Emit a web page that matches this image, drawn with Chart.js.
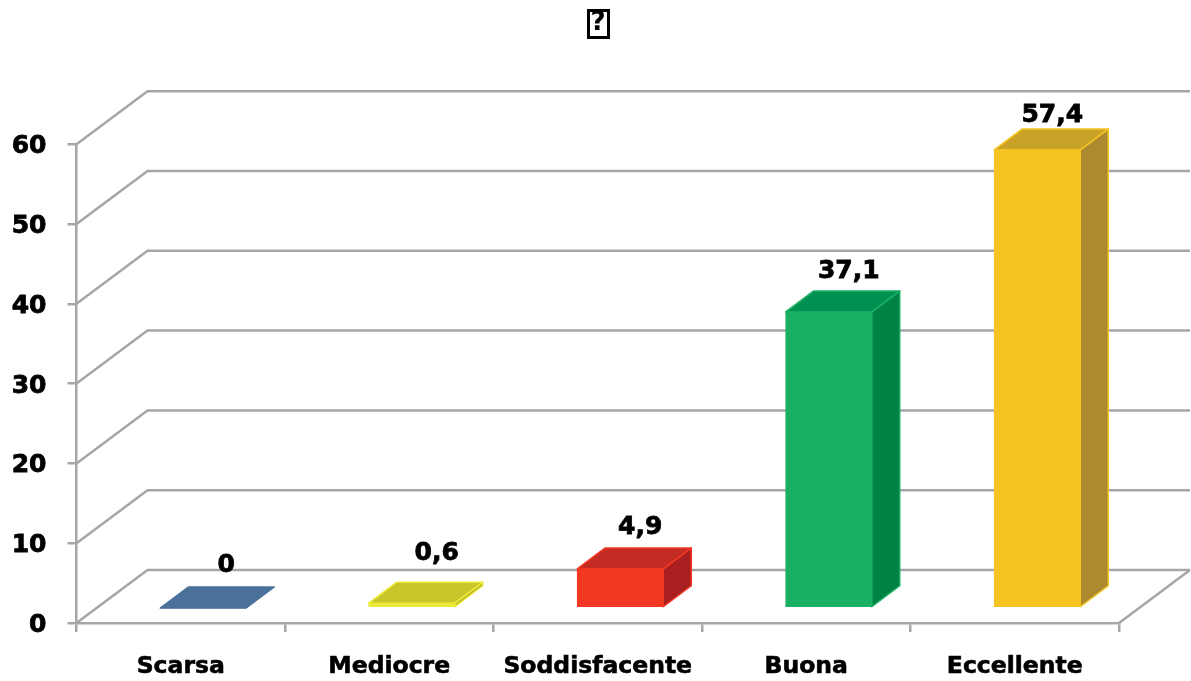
<!DOCTYPE html>
<html>
<head>
<meta charset="utf-8">
<title>chart</title>
<script src="https://cdn.jsdelivr.net/npm/chart.js@4/dist/chart.umd.min.js"></script>
<style>
  html, body { margin: 0; padding: 0; background: #fff; }
  canvas { display: block; }
</style>
</head>
<body>
<canvas id="myChart" width="1191" height="681"></canvas>
<script>
var categories = ["Scarsa", "Mediocre", "Soddisfacente", "Buona", "Eccellente"];
var values = [0, 0.6, 4.9, 37.1, 57.4];
var titleText = "?";

var frontColors = ["#4a7199", "#eeea38", "#f23823", "#19b063", "#f5c422"];
var topColors = ["#4a7199", "#c9c62c", "#c42b22", "#009051", "#c9a328"];
var sideColors = ["#4a7199", "#b5b22a", "#a91f1f", "#008246", "#ad8a2f"];
var labelNudge = [[1, -10], [3, -17], [-2, -9], [-2, -8], [-7, -2]];

var gridColor = "#a6a6a6";
var labelFont = "bold 25px 'DejaVu Sans'";

// wall offset and bar depth of the fake 3d look
var wallX = 71, wallY = -53;
var barShiftX = 22.5, barShiftY = -15;
var depthX = 28, depthY = -21;

function poly(ctx, pts, fill, stroke) {
    ctx.beginPath();
    ctx.moveTo(pts[0][0], pts[0][1]);
    for (var i = 1; i < pts.length; i++) ctx.lineTo(pts[i][0], pts[i][1]);
    ctx.closePath();
    ctx.fillStyle = fill;
    ctx.fill();
    ctx.strokeStyle = stroke;
    ctx.lineWidth = 1.5;
    ctx.stroke();
}

var fake3d = {
    id: "fake3d",
    beforeDatasetsDraw: function (chart) {
        var ctx = chart.ctx, area = chart.chartArea, y = chart.scales.y;
        ctx.save();
        ctx.strokeStyle = gridColor;
        ctx.lineWidth = 2.5;
        y.ticks.forEach(function (t) {
            var py = y.getPixelForValue(t.value);
            ctx.beginPath();
            ctx.moveTo(area.left, py);
            ctx.lineTo(area.left + wallX, py + wallY);
            ctx.lineTo(area.right + wallX, py + wallY);
            ctx.stroke();
        });
        // right edge of the floor
        ctx.beginPath();
        ctx.moveTo(area.right, area.bottom);
        ctx.lineTo(area.right + wallX, area.bottom + wallY);
        ctx.stroke();

        // side and top faces, the front comes from the bar itself
        ctx.lineJoin = "round";
        chart.getDatasetMeta(0).data.forEach(function (bar, i) {
            var l = bar.x - bar.width / 2 + barShiftX;
            var r = bar.x + bar.width / 2 + barShiftX;
            var t = bar.y + barShiftY;
            var b = bar.base + barShiftY;
            if (values[i] > 0) {
                poly(ctx, [[r, t], [r + depthX, t + depthY], [r + depthX, b + depthY], [r, b]], sideColors[i], frontColors[i]);
            }
            poly(ctx, [[l, t], [r, t], [r + depthX, t + depthY], [l + depthX, t + depthY]], topColors[i], values[i] > 0 ? frontColors[i] : topColors[i]);
        });
        ctx.restore();

        ctx.save();
        ctx.translate(barShiftX, barShiftY);
    },
    afterDatasetsDraw: function (chart) {
        var ctx = chart.ctx;
        ctx.restore();
        ctx.save();
        ctx.font = labelFont;
        ctx.fillStyle = "#000";
        ctx.strokeStyle = "#000";
        ctx.lineWidth = 0.8;
        ctx.textAlign = "center";
        ctx.textBaseline = "alphabetic";
        chart.getDatasetMeta(0).data.forEach(function (bar, i) {
            var txt = String(values[i]).replace(".", ",");
            var tx = bar.x + barShiftX + depthX / 2 + 8 + labelNudge[i][0];
            var ty = bar.y + barShiftY + depthY - 5 + labelNudge[i][1];
            ctx.fillText(txt, tx, ty);
            ctx.strokeText(txt, tx, ty);
        });

        // frame round the title mark
        var tb = chart.titleBlock;
        var cx = (tb.left + tb.right) / 2;
        ctx.lineWidth = 3;
        ctx.strokeRect(cx - 9.5, 10.5, 20, 27);
        ctx.restore();
    }
};

var ctx = document.getElementById("myChart").getContext("2d");
var myChart = new Chart(ctx, {
    type: "bar",
    data: {
        labels: categories,
        datasets: [{
            data: values,
            backgroundColor: frontColors,
            barThickness: 86,
            clip: false
        }]
    },
    options: {
        responsive: false,
        animation: false,
        layout: { padding: { left: 5, right: 0, top: 0, bottom: 0 } },
        plugins: {
            legend: { display: false },
            tooltip: { enabled: false },
            title: {
                display: true,
                text: titleText,
                color: "#000",
                font: { family: "'DejaVu Sans'", size: 26, weight: "bold" },
                padding: { top: 8, bottom: 105 }
            }
        },
        scales: {
            x: {
                grid: { drawOnChartArea: false, color: gridColor, lineWidth: 2.5, tickLength: 9 },
                border: { color: gridColor, width: 2.5 },
                ticks: {
                    color: "#000",
                    font: { family: "'DejaVu Sans'", size: 23.5, weight: "bold" },
                    textStrokeColor: "#000",
                    textStrokeWidth: 0.6,
                    padding: 21,
                    maxRotation: 0,
                    autoSkip: false
                },
                afterFit: function (scale) { scale.height = 58; }
            },
            y: {
                min: 0,
                max: 60,
                grid: { drawOnChartArea: false, color: gridColor, lineWidth: 2.5, tickLength: 9 },
                border: { color: gridColor, width: 2.5 },
                ticks: {
                    stepSize: 10,
                    color: "#000",
                    // empty first line moves the number down a little
                    callback: function (v) { return ["", String(v)]; },
                    font: { family: "'DejaVu Sans'", size: 25, weight: "bold", lineHeight: 0.2 },
                    textStrokeColor: "#000",
                    textStrokeWidth: 0.8,
                    padding: 21
                },
                afterFit: function (scale) { scale.width = 71.5; }
            },
            // empty axis, only keeps the room on the right for the back wall
            side: {
                position: "right",
                grid: { display: false },
                border: { display: false },
                ticks: { display: false },
                afterFit: function (scale) { scale.width = 72; }
            }
        }
    },
    plugins: [fake3d]
});
</script>
</body>
</html>
